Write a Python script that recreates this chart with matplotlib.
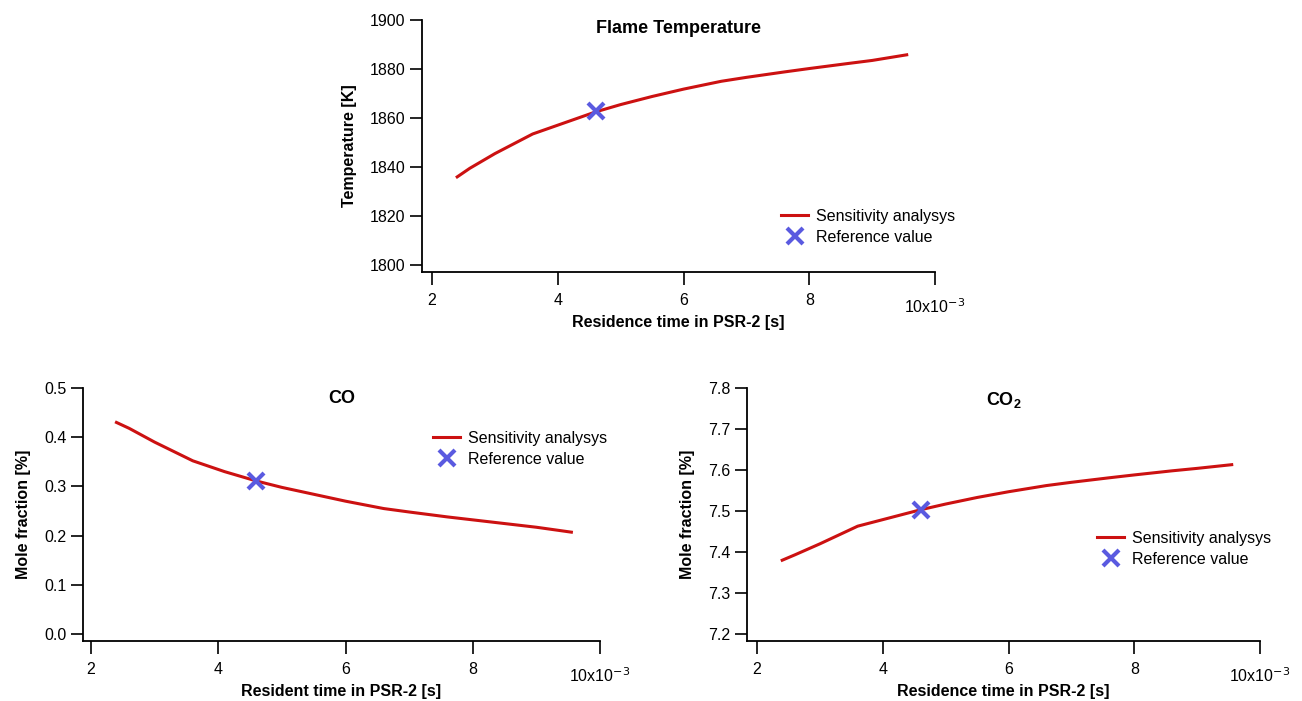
import matplotlib
matplotlib.use("Agg")
import matplotlib.pyplot as plt

plt.rcParams['font.family'] = ['Liberation Sans', 'DejaVu Sans']

# residence time in PSR-2 [ms]
tau = [2.4, 2.6, 3.0, 3.6, 4.1, 4.6, 5.0, 5.5, 6.0, 6.6, 7.0, 7.6, 8.0, 8.6, 9.0, 9.55]

temperature = [1836.0, 1839.5, 1845.5, 1853.5, 1858.0, 1862.5, 1865.5, 1868.8, 1871.8, 1875.0,
               1876.6, 1878.8, 1880.2, 1882.2, 1883.5, 1885.8]
co = [0.430, 0.418, 0.390, 0.352, 0.330, 0.311, 0.298, 0.284, 0.270, 0.255,
      0.248, 0.238, 0.232, 0.223, 0.217, 0.207]
co2 = [7.380, 7.393, 7.420, 7.463, 7.483, 7.503, 7.517, 7.533, 7.547, 7.562,
       7.570, 7.581, 7.588, 7.598, 7.604, 7.613]

# reference point
ref_tau = 4.6
ref_temperature = 1862.8
ref_co = 0.310
ref_co2 = 7.503

W, H = 1302, 701
fig = plt.figure(figsize=(W / 100, H / 100), dpi=100)

RED = '#cc1111'
BLUE = '#5a5ae0'

ydata = {'T': temperature, 'CO': co, 'CO2': co2}
refs = {'T': ref_temperature, 'CO': ref_co, 'CO2': ref_co2}
disp_titles = {'T': 'Flame Temperature', 'CO': 'CO', 'CO2': 'CO$_\\mathregular{2}$'}


def make_axes(left, right, top, bottom):
    return fig.add_axes([left / W, 1 - bottom / H, (right - left) / W, (bottom - top) / H])


def style(ax, xlim, ylim, yticks, key, xlabel, ylabel, leg_xy, title_y):
    ax.plot(tau, ydata[key], color=RED, lw=2.2, label='Sensitivity analysys')
    ax.plot([ref_tau], [refs[key]], ls='none', marker='x', ms=11, mew=3,
            color=BLUE, label='Reference value')
    ax.set_xlim(*xlim)
    ax.set_ylim(*ylim)
    ax.set_xticks([2, 4, 6, 8, 10])
    ax.set_xticklabels(['2', '4', '6', '8', ''])
    ax.set_yticks(yticks)
    if key == 'T':
        ax.set_yticklabels(['{:.0f}'.format(v) for v in yticks])
    else:
        ax.set_yticklabels(['{:.1f}'.format(v) for v in yticks])
    for s in ['top', 'right']:
        ax.spines[s].set_visible(False)
    for s in ['left', 'bottom']:
        ax.spines[s].set_linewidth(1.3)
    ax.tick_params(direction='out', length=9, width=1.2, labelsize=11.5)
    ax.tick_params(axis='x', pad=6)
    ax.tick_params(axis='y', pad=3)
    ax.text(1.0, -0.1, '10x10$^{-3}$', transform=ax.transAxes, ha='center',
            va='top', fontsize=11.5)
    ax.set_xlabel(xlabel, fontsize=11.5, fontweight='bold', labelpad=5)
    ax.set_ylabel(ylabel, fontsize=11.5, fontweight='bold', labelpad=9)
    ax.set_title(disp_titles[key], fontsize=13, fontweight='bold', y=title_y, va='top')
    ax.legend(loc='upper left', bbox_to_anchor=(leg_xy[0] / W, 1 - leg_xy[1] / H),
              bbox_transform=fig.transFigure, frameon=False, borderpad=0,
              handlelength=1.7, handletextpad=0.5, labelspacing=0.35, fontsize=11.5)


ax1 = make_axes(422, 935, 20, 272)
style(ax1, (1.84, 10), (1797.2, 1900), [1800, 1820, 1840, 1860, 1880, 1900],
      'T', 'Residence time in PSR-2 [s]', 'Temperature [K]', (773, 201), 0.965)

ax2 = make_axes(83, 600, 388, 641)
style(ax2, (1.874, 10), (-0.0142, 0.5), [0.0, 0.1, 0.2, 0.3, 0.4, 0.5],
      'CO', 'Resident time in PSR-2 [s]', 'Mole fraction [%]', (425, 423), 0.96)

ax3 = make_axes(747, 1260, 388, 641)
style(ax3, (1.84, 10), (7.183, 7.8), [7.2, 7.3, 7.4, 7.5, 7.6, 7.7, 7.8],
      'CO2', 'Residence time in PSR-2 [s]', 'Mole fraction [%]', (1089, 523), 0.96)

fig.savefig('out.png', dpi=100)
